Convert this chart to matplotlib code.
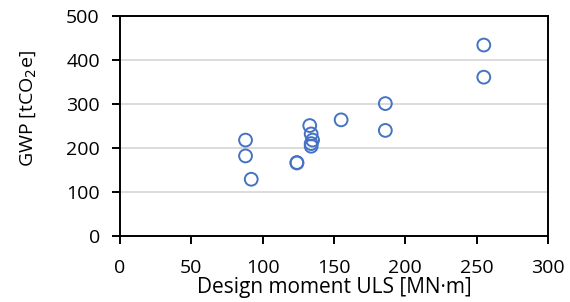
import matplotlib
matplotlib.use("Agg")
import matplotlib.pyplot as plt

# Design moment ULS [MN·m] vs GWP [tCO2e]
moment = [88, 88, 92, 124, 124, 133, 134, 135, 134, 134, 155, 186, 186, 255, 255]
gwp = [218, 182, 129, 166, 167, 251, 232, 218, 210, 204, 264, 301, 240, 434, 361]

x_ticks = [0, 50, 100, 150, 200, 250, 300]
y_ticks = [0, 100, 200, 300, 400, 500]

plt.rcParams["font.family"] = ["Open Sans", "DejaVu Sans"]

fig = plt.figure(figsize=(5.70, 3.02), dpi=100)
ax = fig.add_axes([0.2105, 0.2185, 0.7509, 0.7285])

ax.scatter(moment, gwp, s=85, facecolors="none", edgecolors="#4472C4",
           linewidths=1.4, zorder=3)

ax.set_xlim(0, 300)
ax.set_ylim(0, 500)
ax.set_xticks(x_ticks)
ax.set_yticks(y_ticks)
ax.grid(axis="y", color="#d9d9d9", linewidth=1.3, zorder=0)
ax.set_axisbelow(True)

for s in ax.spines.values():
    s.set_color("black")
    s.set_linewidth(1.4)

ax.tick_params(axis="both", direction="out", length=5.5, width=1.4,
               labelsize=14, colors="black")
ax.tick_params(axis="x", pad=11)
ax.tick_params(axis="y", pad=9)

ax.set_xlabel("Design moment ULS [MN\u00b7m]", fontsize=15, labelpad=0)
# y label sits a bit above the axes centre, as in the original
fig.text(28 / 570, 1 - 109 / 302, "GWP [tCO$_2$e]", fontsize=14,
         rotation=90, ha="center", va="center")

fig.savefig("out.png", dpi=100)
